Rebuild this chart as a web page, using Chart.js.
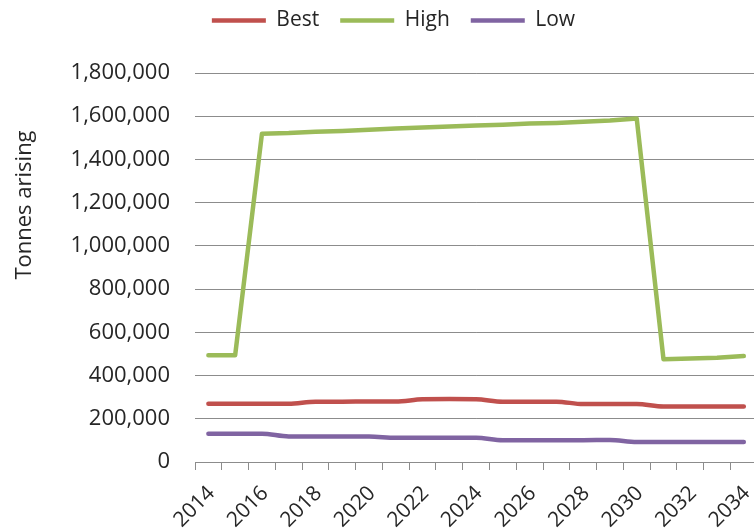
<!DOCTYPE html>
<html>
<head>
<meta charset="utf-8">
<script src="https://cdn.jsdelivr.net/npm/chart.js@4/dist/chart.umd.min.js"></script>
<style>
  html, body { margin: 0; padding: 0; background: #fff; overflow: hidden; }
  #wrap { width: 773px; height: 532px; }
</style>
</head>
<body>
<div id="wrap"><canvas id="c" width="773" height="532"></canvas></div>
<script>
// Tonnes arising per year under three scenarios
const years = ['2014','2015','2016','2017','2018','2019','2020','2021','2022','2023','2024',
               '2025','2026','2027','2028','2029','2030','2031','2032','2033','2034'];
const best = [270000, 270000, 270000, 270000, 279000, 279000, 280000, 280000, 290000, 291000, 290000,
              279000, 279000, 279000, 268000, 268000, 268000, 257000, 257000, 257000, 257000];
const high = [494000, 494000, 1519000, 1522000, 1528000, 1532000, 1537000, 1543000, 1548000, 1552000, 1557000,
              1561000, 1566000, 1569000, 1574000, 1580000, 1590000, 475000, 479000, 482000, 490000];
const low  = [131000, 131000, 131000, 118000, 118000, 118000, 118000, 112000, 112000, 112000, 112000,
              101000, 101000, 101000, 101000, 102000, 92000, 92000, 92000, 92000, 92000];
const yTicks = [0, 200000, 400000, 600000, 800000, 1000000, 1200000, 1400000, 1600000, 1800000];
const yTitle = 'Tonnes arising';

const FONT = '"Open Sans", "DejaVu Sans", sans-serif';
const TEXT = '#262626';
const GRID = '#8c8c8c';

// draws the vertical axis title to the left of the tick labels
const axisTitle = {
  id: 'axisTitle',
  afterDraw(chart) {
    const ctx = chart.ctx;
    ctx.save();
    ctx.translate(25, 205);
    ctx.rotate(-Math.PI / 2);
    ctx.font = '22px ' + FONT;
    ctx.fillStyle = TEXT;
    ctx.textAlign = 'center';
    ctx.textBaseline = 'middle';
    ctx.fillText(yTitle, 0, 0);
    ctx.restore();
  }
};

function series(label, data, color, smooth) {
  return {
    label, data,
    xAxisID: 'x',
    yAxisID: 'y',
    borderColor: color,
    backgroundColor: color,
    borderWidth: 4.5,
    borderCapStyle: 'round',
    borderJoinStyle: 'round',
    pointRadius: 0,
    pointHoverRadius: 0,
    pointStyle: 'line',
    tension: 0,
    cubicInterpolationMode: smooth ? 'monotone' : 'default'
  };
}

new Chart(document.getElementById('c'), {
  type: 'line',
  data: {
    labels: years,
    datasets: [
      series('Best', best, '#C0504D', true),
      series('High', high, '#9BBB59', false),
      series('Low', low, '#8064A2', true)
    ]
  },
  plugins: [axisTitle],
  options: {
    responsive: false,
    animation: false,
    layout: { padding: { left: 14, right: 0, top: -11, bottom: 0 } },
    plugins: {
      tooltip: { enabled: false },
      legend: {
        position: 'top',
        align: 'center',
        labels: {
          usePointStyle: true,
          pointStyle: 'line',
          pointStyleWidth: 54,
          boxHeight: 20,
          padding: 21,
          color: TEXT,
          font: { family: FONT, size: 21 }
        }
      }
    },
    scales: {
      x: {
        type: 'category',
        position: 'bottom',
        offset: true,
        grid: {
          offset: true,
          drawOnChartArea: false,
          drawTicks: true,
          tickLength: 8,
          color: GRID
        },
        border: { display: true, color: GRID, width: 1 },
        ticks: {
          autoSkip: false,
          minRotation: 45,
          maxRotation: 45,
          padding: 11,
          labelOffset: 3,
          color: TEXT,
          font: { family: FONT, size: 21 },
          callback: (v, i) => (i % 2 === 0 ? years[i] : '')
        },
        afterFit: (s) => { s.height = 70; }
      },
      // spacer between the legend and the plot area
      gap: {
        type: 'category',
        position: 'top',
        display: true,
        grid: { display: false },
        border: { display: false },
        ticks: { display: false },
        afterFit: (s) => { s.height = 32; }
      },
      y: {
        min: 0,
        max: 1800000,
        afterBuildTicks: (s) => { s.ticks = yTicks.map(v => ({ value: v })); },
        grid: { color: GRID, drawTicks: false, lineWidth: 1 },
        border: { display: false },
        ticks: {
          padding: 25,
          color: TEXT,
          font: { family: FONT, size: 22 },
          callback: (v) => Number(v).toLocaleString('en-US')
        },
        afterFit: (s) => { s.width = 181; }
      }
    }
  }
});
</script>
</body>
</html>
